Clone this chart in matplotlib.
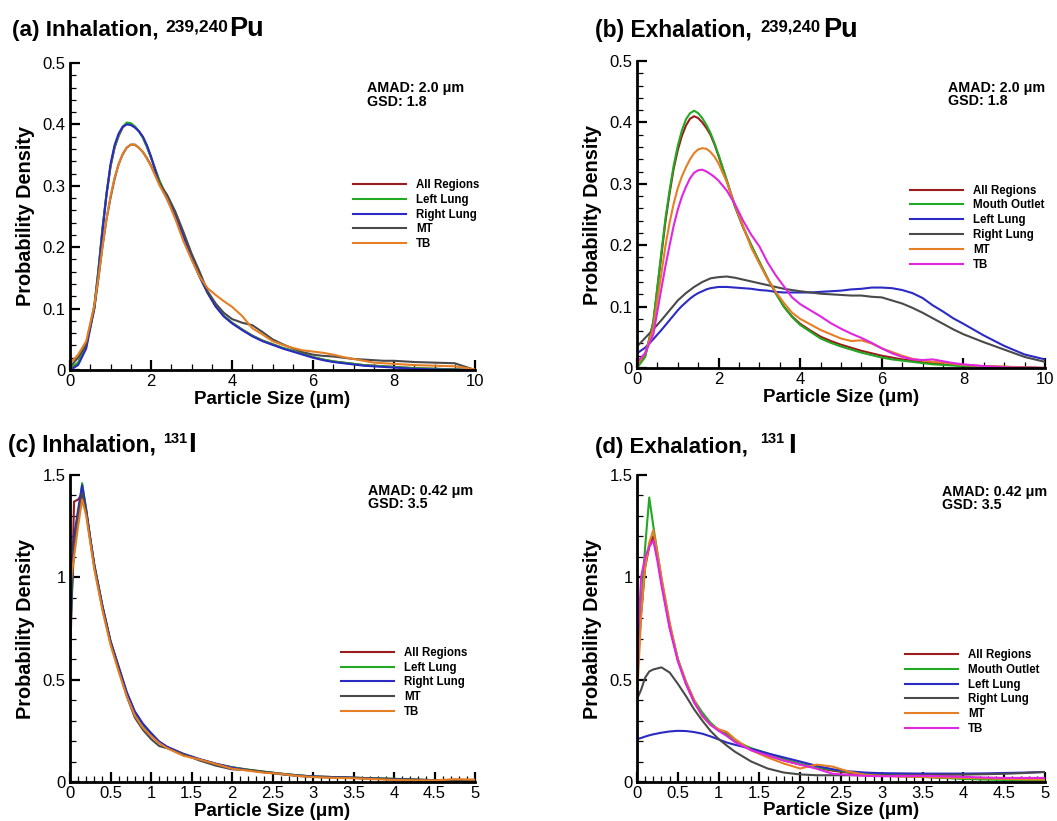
import numpy as np
import matplotlib
matplotlib.use("Agg")
import matplotlib.pyplot as plt
from matplotlib.ticker import MultipleLocator, FuncFormatter

plt.rcParams['font.family'] = ['Liberation Sans', 'DejaVu Sans']

# ---- data ----
# Pu panels share one particle size grid (um)
x_pu = [0, 0.2, 0.4, 0.6, 0.7, 0.8, 0.9, 1.0, 1.1, 1.2, 1.3, 1.4, 1.5, 1.6, 1.7,
        1.8, 1.9, 2.0, 2.2, 2.4, 2.6, 2.8, 3.0, 3.2, 3.4, 3.6, 3.8, 4.0, 4.25, 4.5,
        4.75, 5.0, 5.25, 5.5, 5.75, 6.0, 6.25, 6.5, 6.75, 7.0, 7.25, 7.5, 7.75,
        8.0, 8.5, 9.0, 9.5, 10.0]

# (a) inhalation, Pu
a_all = [0.002, 0.011, 0.039, 0.103, 0.16, 0.228, 0.285, 0.331, 0.362, 0.381, 0.395,
         0.401, 0.400, 0.396, 0.389, 0.379, 0.364, 0.346,
         0.309, 0.279, 0.25, 0.217, 0.182, 0.152, 0.126, 0.104, 0.088, 0.077,
         0.066, 0.056, 0.048, 0.042, 0.036, 0.031, 0.026, 0.021, 0.017, 0.014, 0.012,
         0.01, 0.008, 0.007, 0.006, 0.005, 0.003, 0.002, 0.001, 0.0]
a_left = [0.003, 0.012, 0.04, 0.105, 0.163, 0.23, 0.287, 0.332, 0.363, 0.382, 0.396,
          0.403, 0.402, 0.397, 0.389, 0.378, 0.363, 0.346,
          0.31, 0.28, 0.25, 0.216, 0.182, 0.152, 0.126, 0.104, 0.088, 0.077,
          0.066, 0.056, 0.048, 0.042, 0.036, 0.031, 0.026, 0.021, 0.017, 0.014, 0.012,
          0.01, 0.008, 0.007, 0.006, 0.005, 0.003, 0.002, 0.001, 0.0]
a_right = [0.0, 0.008, 0.035, 0.10, 0.158, 0.225, 0.285, 0.335, 0.366, 0.385, 0.396,
           0.400, 0.399, 0.395, 0.389, 0.380, 0.366, 0.348,
           0.305, 0.278, 0.251, 0.218, 0.183, 0.153, 0.125, 0.103, 0.087, 0.076,
           0.065, 0.055, 0.047, 0.041, 0.035, 0.030, 0.025, 0.020, 0.016, 0.013,
           0.011, 0.009, 0.007, 0.006, 0.005, 0.004, 0.002, 0.001, 0.0005, 0.0]
a_mt = [0.005, 0.02, 0.042, 0.10, 0.148, 0.20, 0.245, 0.28, 0.311, 0.335, 0.351,
        0.362, 0.367, 0.367, 0.362, 0.355, 0.345, 0.333,
        0.305, 0.285, 0.258, 0.225, 0.19, 0.16, 0.128, 0.108, 0.093, 0.083,
        0.077, 0.073, 0.062, 0.05, 0.042, 0.035, 0.029, 0.025, 0.023, 0.022, 0.02,
        0.018, 0.017, 0.016, 0.015, 0.015, 0.013, 0.012, 0.011, 0.0]
a_tb = [0.011, 0.025, 0.047, 0.105, 0.15, 0.2, 0.245, 0.283, 0.313, 0.335, 0.352,
        0.362, 0.367, 0.367, 0.362, 0.355, 0.344, 0.332,
        0.302, 0.278, 0.246, 0.21, 0.18, 0.152, 0.133, 0.122, 0.112, 0.103,
        0.088, 0.068, 0.058, 0.047, 0.041, 0.036, 0.032, 0.03, 0.028, 0.025, 0.021,
        0.018, 0.015, 0.012, 0.011, 0.01, 0.008, 0.007, 0.006, 0.001]

# (b) exhalation, Pu
b_all = [0.005, 0.02, 0.075, 0.185, 0.24, 0.285, 0.325, 0.355, 0.378, 0.395, 0.406,
         0.41, 0.407, 0.4, 0.391, 0.38, 0.364, 0.345,
         0.305, 0.263, 0.229, 0.2, 0.172, 0.146, 0.122, 0.1, 0.084, 0.072,
         0.061, 0.051, 0.044, 0.038, 0.033, 0.028, 0.024, 0.02, 0.017, 0.014, 0.012,
         0.01, 0.008, 0.006, 0.005, 0.004, 0.003, 0.002, 0.001, 0.0]
b_mouth = [0.0, 0.018, 0.075, 0.19, 0.245, 0.29, 0.33, 0.362, 0.387, 0.405, 0.415,
           0.419, 0.415, 0.407, 0.396, 0.383, 0.366, 0.347,
           0.306, 0.264, 0.23, 0.2, 0.173, 0.146, 0.122, 0.1, 0.083, 0.07,
           0.059, 0.048, 0.041, 0.035, 0.03, 0.025, 0.021, 0.017, 0.014, 0.012, 0.01,
           0.008, 0.006, 0.005, 0.004, 0.003, 0.002, 0.001, 0.0005, 0.0]
b_left = [0.024, 0.033, 0.047, 0.062, 0.07, 0.078, 0.086, 0.094, 0.101, 0.107, 0.113,
          0.118, 0.122, 0.125, 0.128, 0.13, 0.131, 0.132,
          0.132, 0.131, 0.13, 0.129, 0.127, 0.126, 0.124, 0.123, 0.123, 0.123,
          0.123, 0.124, 0.125, 0.126, 0.128, 0.129, 0.131, 0.131, 0.13, 0.127, 0.122,
          0.114, 0.102, 0.092, 0.081, 0.072, 0.053, 0.036, 0.022, 0.014]
b_right = [0.035, 0.049, 0.063, 0.078, 0.086, 0.094, 0.102, 0.11, 0.116, 0.122, 0.127,
           0.132, 0.136, 0.14, 0.143, 0.146, 0.147, 0.148,
           0.149, 0.147, 0.144, 0.141, 0.138, 0.135, 0.132, 0.129, 0.127, 0.125,
           0.123, 0.121, 0.12, 0.119, 0.118, 0.118, 0.116, 0.115, 0.11, 0.105, 0.098,
           0.09, 0.081, 0.072, 0.063, 0.055, 0.042, 0.03, 0.018, 0.01]
b_mt = [0.005, 0.024, 0.065, 0.155, 0.2, 0.237, 0.268, 0.293, 0.312, 0.327, 0.34,
        0.35, 0.356, 0.358, 0.357, 0.352, 0.344, 0.333,
        0.303, 0.266, 0.231, 0.196, 0.17, 0.145, 0.124, 0.106, 0.09, 0.08,
        0.071, 0.062, 0.055, 0.048, 0.044, 0.045, 0.04, 0.032, 0.026, 0.02, 0.015,
        0.012, 0.01, 0.009, 0.007, 0.005, 0.003, 0.002, 0.001, 0.0]
b_tb = [0.01, 0.024, 0.055, 0.13, 0.167, 0.2, 0.232, 0.258, 0.279, 0.295, 0.309,
        0.318, 0.322, 0.323, 0.32, 0.316, 0.311, 0.305,
        0.289, 0.267, 0.24, 0.217, 0.198, 0.172, 0.151, 0.133, 0.115, 0.104,
        0.094, 0.084, 0.073, 0.064, 0.056, 0.049, 0.041, 0.032, 0.024, 0.018, 0.014,
        0.013, 0.014, 0.011, 0.008, 0.006, 0.003, 0.001, 0.0005, 0.0]

# I-131 panels share another grid (um)
x_i = [0, 0.05, 0.1, 0.15, 0.2, 0.25, 0.3, 0.4, 0.5, 0.6, 0.7, 0.8, 0.9, 1.0, 1.1,
       1.2, 1.4, 1.6, 1.8, 2.0, 2.2, 2.4, 2.6, 2.8, 3.0, 3.25, 3.5, 3.75, 4.0,
       4.25, 4.5, 4.75, 5.0]

# (c) inhalation, I-131
c_all = [0.55, 1.37, 1.38, 1.41, 1.32, 1.19, 1.06, 0.86, 0.685, 0.56, 0.435, 0.34,
         0.28, 0.235, 0.195, 0.17, 0.135, 0.11, 0.088, 0.072, 0.06, 0.05, 0.041,
         0.033, 0.027, 0.024, 0.021, 0.018, 0.015, 0.012, 0.009, 0.008, 0.008]
c_left = [0.68, 1.15, 1.3, 1.46, 1.33, 1.19, 1.06, 0.86, 0.685, 0.56, 0.435, 0.34,
          0.28, 0.235, 0.195, 0.17, 0.135, 0.11, 0.088, 0.072, 0.06, 0.05, 0.041,
          0.033, 0.027, 0.024, 0.021, 0.018, 0.016, 0.012, 0.009, 0.008, 0.008]
c_right = [0.7, 1.2, 1.33, 1.45, 1.33, 1.19, 1.06, 0.86, 0.69, 0.565, 0.44, 0.345,
           0.285, 0.24, 0.198, 0.172, 0.138, 0.112, 0.09, 0.07, 0.058, 0.048, 0.04,
           0.032, 0.027, 0.024, 0.021, 0.017, 0.014, 0.011, 0.009, 0.008, 0.008]
c_mt = [0.8, 1.15, 1.3, 1.41, 1.32, 1.18, 1.05, 0.85, 0.68, 0.55, 0.42, 0.315,
        0.255, 0.21, 0.176, 0.165, 0.135, 0.105, 0.08, 0.062, 0.058, 0.048, 0.038,
        0.03, 0.025, 0.022, 0.02, 0.016, 0.012, 0.01, 0.007, 0.006, 0.008]
c_tb = [0.95, 1.1, 1.25, 1.38, 1.3, 1.17, 1.04, 0.84, 0.67, 0.54, 0.42, 0.325,
        0.265, 0.225, 0.19, 0.165, 0.128, 0.11, 0.088, 0.065, 0.055, 0.045, 0.04,
        0.03, 0.024, 0.02, 0.018, 0.014, 0.01, 0.008, 0.008, 0.014, 0.012]

# (d) exhalation, I-131
d_all = [0.5, 0.82, 1.05, 1.15, 1.2, 1.1, 0.98, 0.76, 0.6, 0.48, 0.39, 0.325,
         0.28, 0.255, 0.235, 0.2, 0.16, 0.13, 0.105, 0.085, 0.07, 0.055, 0.045,
         0.036, 0.03, 0.028, 0.025, 0.022, 0.02, 0.018, 0.015, 0.015, 0.015]
d_mouth = [0.52, 0.85, 1.15, 1.39, 1.25, 1.12, 0.99, 0.77, 0.6, 0.49, 0.4, 0.34,
           0.29, 0.255, 0.23, 0.2, 0.165, 0.14, 0.112, 0.09, 0.072, 0.06, 0.048,
           0.042, 0.035, 0.03, 0.025, 0.02, 0.015, 0.012, 0.01, 0.007, 0.005]
d_left = [0.21, 0.215, 0.222, 0.228, 0.233, 0.237, 0.241, 0.247, 0.25, 0.249, 0.244,
          0.236, 0.223, 0.208, 0.193, 0.182, 0.162, 0.14, 0.12, 0.1, 0.079, 0.062,
          0.052, 0.046, 0.043, 0.042, 0.041, 0.041, 0.041, 0.042, 0.044, 0.046, 0.049]
d_right = [0.405, 0.45, 0.51, 0.54, 0.55, 0.555, 0.56, 0.535, 0.48, 0.42, 0.355, 0.3,
           0.25, 0.21, 0.178, 0.148, 0.1, 0.066, 0.046, 0.037, 0.033, 0.033, 0.033,
           0.033, 0.033, 0.033, 0.034, 0.035, 0.036, 0.038, 0.04, 0.044, 0.049]
d_mt = [0.4, 0.81, 1.05, 1.17, 1.23, 1.12, 1.0, 0.78, 0.6, 0.49, 0.4, 0.32, 0.28,
        0.258, 0.245, 0.21, 0.155, 0.12, 0.09, 0.066, 0.085, 0.075, 0.05, 0.035,
        0.03, 0.027, 0.025, 0.022, 0.02, 0.018, 0.015, 0.013, 0.012]
d_tb = [0.6, 1.0, 1.1, 1.15, 1.18, 1.08, 0.96, 0.75, 0.59, 0.48, 0.39, 0.325, 0.28,
        0.25, 0.225, 0.195, 0.155, 0.13, 0.105, 0.085, 0.065, 0.04, 0.035, 0.03,
        0.028, 0.029, 0.03, 0.028, 0.025, 0.022, 0.02, 0.02, 0.02]

RED = '#9a1c1c'
GREEN = '#22a822'
BLUE = '#2b2bc4'
GRAY = '#4a4a4a'
ORANGE = '#e57e25'
MAGENTA = '#e026e0'

W, H = 1057, 821
fig = plt.figure(figsize=(W / 100, H / 100), dpi=100)


def px_axes(x0, y0, x1, y1):
    return fig.add_axes([x0 / W, 1 - y1 / H, (x1 - x0) / W, (y1 - y0) / H])


def fmt(v, pos):
    return '%g' % round(v, 3)


def style(ax, xmax, xmaj, xmin, ymax, ymaj, ymin, xlab_y):
    ax.set_xlim(0, xmax)
    ax.set_ylim(0, ymax)
    for s in ['top', 'right']:
        ax.spines[s].set_visible(False)
    for s in ['left', 'bottom']:
        ax.spines[s].set_linewidth(2)
    ax.xaxis.set_major_locator(MultipleLocator(xmaj))
    ax.xaxis.set_minor_locator(MultipleLocator(xmin))
    ax.yaxis.set_major_locator(MultipleLocator(ymaj))
    ax.yaxis.set_minor_locator(MultipleLocator(ymin))
    ax.xaxis.set_major_formatter(FuncFormatter(fmt))
    ax.yaxis.set_major_formatter(FuncFormatter(fmt))
    ax.tick_params(which='major', direction='in', length=7, width=1.6,
                   labelsize=12, pad=3)
    ax.tick_params(which='minor', direction='in', length=4, width=0.9)
    ax.set_xlabel('Particle Size (\u03bcm)', fontsize=13.5, fontweight='bold')
    ax.set_ylabel('Probability Density', fontsize=14.3, fontweight='bold')
    ax.xaxis.set_label_coords(0.5, xlab_y)
    ax.yaxis.set_label_coords(-0.087, 0.5)


def title(x, base, main, size, sup, sup_x, sup_size, elem, elem_x, elem_size, sup_base):
    fig.text(x / W, 1 - base / H, main, fontsize=size, fontweight='bold',
             ha='left', va='baseline')
    fig.text(sup_x / W, 1 - sup_base / H, sup, fontsize=sup_size, fontweight='bold',
             ha='left', va='baseline')
    fig.text(elem_x / W, 1 - base / H, elem, fontsize=elem_size, fontweight='bold',
             ha='left', va='baseline')


def add_legend(ax, ax_x, ax_y):
    ax.legend(loc='upper left', bbox_to_anchor=(ax_x, ax_y), frameon=False,
              prop={'weight': 'bold', 'size': 8.3}, handlelength=4.6,
              handletextpad=0.85, labelspacing=0.24, borderpad=0,
              borderaxespad=0)


def amad(ax, x, y, s):
    ax.text(x, y, s, transform=ax.transAxes, fontsize=10.3, fontweight='bold',
            va='top', ha='left', linespacing=0.95)


lw = 1.5

# (a)
ax = px_axes(70, 63, 475, 370)
ax.plot(x_pu, a_all, color=RED, lw=lw, label='All Regions')
ax.plot(x_pu, a_left, color=GREEN, lw=lw, label='Left Lung')
ax.plot(x_pu, a_right, color=BLUE, lw=lw, label='Right Lung')
ax.plot(x_pu, a_mt, color=GRAY, lw=lw, label='MT')
ax.plot(x_pu, a_tb, color=ORANGE, lw=lw, label='TB')
style(ax, 10, 2, 0.5, 0.5, 0.1, 0.02, -0.068)
add_legend(ax, 0.699, 0.622)
amad(ax, 0.733, 0.94, 'AMAD: 2.0 \u03bcm\nGSD: 1.8')
title(12, 36, '(a) Inhalation,', 16.2, '239,240', 165, 12.5, 'Pu', 229, 19.5, 31)

# (b)
ax = px_axes(637, 61, 1045, 368)
ax.plot(x_pu, b_all, color=RED, lw=lw, label='All Regions')
ax.plot(x_pu, b_mouth, color=GREEN, lw=lw, label='Mouth Outlet')
ax.plot(x_pu, b_left, color=BLUE, lw=lw, label='Left Lung')
ax.plot(x_pu, b_right, color=GRAY, lw=lw, label='Right Lung')
ax.plot(x_pu, b_mt, color=ORANGE, lw=lw, label='MT')
ax.plot(x_pu, b_tb, color=MAGENTA, lw=lw, label='TB')
style(ax, 10, 2, 0.5, 0.5, 0.1, 0.02, -0.068)
add_legend(ax, 0.669, 0.597)
amad(ax, 0.762, 0.935, 'AMAD: 2.0 \u03bcm\nGSD: 1.8')
title(595, 37, '(b) Exhalation,', 16.4, '239,240', 760, 12, 'Pu', 823, 19.5, 31)

# (c)
ax = px_axes(70, 475, 475, 782)
ax.plot(x_i, c_all, color=RED, lw=lw, label='All Regions')
ax.plot(x_i, c_left, color=GREEN, lw=lw, label='Left Lung')
ax.plot(x_i, c_right, color=BLUE, lw=lw, label='Right Lung')
ax.plot(x_i, c_mt, color=GRAY, lw=lw, label='MT')
ax.plot(x_i, c_tb, color=ORANGE, lw=lw, label='TB')
style(ax, 5, 0.5, 0.1, 1.5, 0.5, 0.1, -0.068)
add_legend(ax, 0.669, 0.44)
amad(ax, 0.736, 0.972, 'AMAD: 0.42 \u03bcm\nGSD: 3.5')
title(8, 452, '(c) Inhalation,', 16.4, '131', 163, 10.5, 'I', 188, 20, 443)

# (d)
ax = px_axes(637, 475, 1045, 782)
ax.plot(x_i, d_all, color=RED, lw=lw, label='All Regions')
ax.plot(x_i, d_mouth, color=GREEN, lw=lw, label='Mouth Outlet')
ax.plot(x_i, d_left, color=BLUE, lw=lw, label='Left Lung')
ax.plot(x_i, d_right, color=GRAY, lw=lw, label='Right Lung')
ax.plot(x_i, d_mt, color=ORANGE, lw=lw, label='MT')
ax.plot(x_i, d_tb, color=MAGENTA, lw=lw, label='TB')
style(ax, 5, 0.5, 0.1, 1.5, 0.5, 0.1, -0.065)
add_legend(ax, 0.657, 0.433)
amad(ax, 0.748, 0.968, 'AMAD: 0.42 \u03bcm\nGSD: 3.5')
title(595, 453, '(d) Exhalation,', 16, '131', 760, 10.5, 'I', 788, 20, 443)

fig.savefig('out.png', dpi=100)
